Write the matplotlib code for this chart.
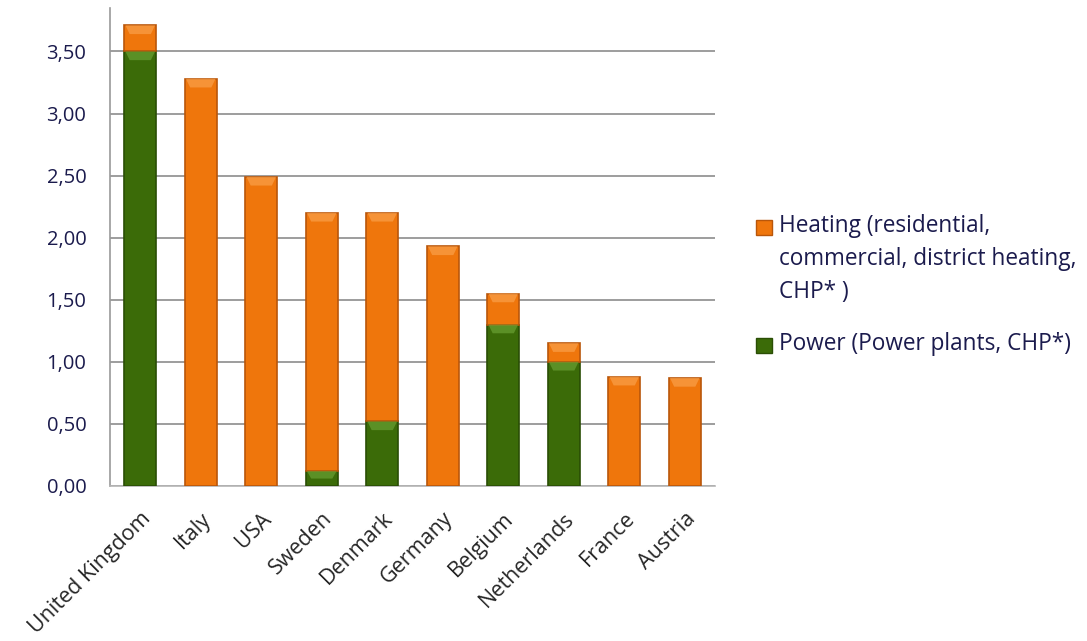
import matplotlib.pyplot as plt
from matplotlib.patches import Polygon, Rectangle
import numpy as np

countries = ["United Kingdom", "Italy", "USA", "Sweden", "Denmark",
             "Germany", "Belgium", "Netherlands", "France", "Austria"]
power = [3.50, 0.00, 0.00, 0.12, 0.52, 0.00, 1.30, 1.00, 0.00, 0.00]
heating = [0.21, 3.28, 2.49, 2.08, 1.68, 1.93, 0.25, 0.15, 0.88, 0.87]
yticks = [0.0, 0.5, 1.0, 1.5, 2.0, 2.5, 3.0, 3.5]
series_labels = ["Heating (residential,\ncommercial, district heating,\nCHP* )",
                 "Power (Power plants, CHP*)"]

GREEN = "#3b6b08"
GREEN_EDGE = "#2a4e05"
GREEN_HI = "#6aa033"
ORANGE = "#ef760c"
ORANGE_EDGE = "#b9560a"
ORANGE_HI = "#f9a04a"
TEXT = "#1b1b4d"

plt.rcParams['font.family'] = ['Open Sans', 'DejaVu Sans']

W, H = 1087, 641
fig = plt.figure(figsize=(W / 100, H / 100), dpi=100)
ax = fig.add_axes([110 / W, 1 - 486 / H, 605 / W, 478 / H])

x = np.arange(len(countries))
width = 0.53


def bevel(ax, bars, hi):
    # light wedge along the top of each segment
    for b in bars:
        h = b.get_height()
        if h <= 0:
            continue
        x0, y0 = b.get_x(), b.get_y()
        w = b.get_width()
        top = y0 + h
        d = min(0.07, h * 0.5)
        inset = 0.09
        poly = Polygon([(x0 + 0.02, top), (x0 + w - 0.02, top),
                        (x0 + w - inset, top - d), (x0 + inset, top - d)],
                       closed=True, facecolor=hi, edgecolor="none",
                       alpha=0.7, zorder=4)
        ax.add_patch(poly)


gb = ax.bar(x, power, width, color=GREEN, edgecolor=GREEN_EDGE,
            linewidth=1.2, zorder=3)
ob = ax.bar(x, heating, width, bottom=power, color=ORANGE,
            edgecolor=ORANGE_EDGE, linewidth=1.2, zorder=3)
bevel(ax, gb, GREEN_HI)
bevel(ax, ob, ORANGE_HI)

ax.set_xlim(-0.5, len(countries) - 0.5)
ax.set_ylim(0, 3.85)
ax.set_yticks(yticks)
ax.set_yticklabels([f"{v:.2f}".replace(".", ",") for v in yticks],
                   fontsize=14.5, color=TEXT)
ax.yaxis.grid(True, color="#8c8c8c", linewidth=1.2, zorder=0)
ax.set_axisbelow(True)

ax.set_xticks(x)
ax.set_xticklabels(countries, rotation=45, ha="right", rotation_mode="anchor",
                   fontsize=15.5, color="#262626")
ax.tick_params(axis="both", length=0)
ax.tick_params(axis="x", pad=16)
ax.tick_params(axis="y", pad=17)

for side in ["top", "right"]:
    ax.spines[side].set_visible(False)
ax.spines["left"].set_color("#9a9a9a")
ax.spines["bottom"].set_color("#b5b5b5")
ax.spines["left"].set_linewidth(1.2)
ax.spines["bottom"].set_linewidth(1.2)

# legend drawn by hand so the wrapped label keeps its own line spacing
legend_items = [(ORANGE, ORANGE_EDGE, 218), (GREEN, GREEN_EDGE, 336)]
for (fc, ec, ytop), label in zip(legend_items, series_labels):
    fig.add_artist(Rectangle((756 / W, 1 - (ytop + 17) / H), 16 / W, 15 / H,
                             transform=fig.transFigure, facecolor=fc,
                             edgecolor=ec, linewidth=1))
    fig.text(779 / W, 1 - (ytop - 4) / H, label, ha="left", va="top",
             fontsize=16.3, color=TEXT, linespacing=1.5)

fig.savefig("out.png", dpi=100)
